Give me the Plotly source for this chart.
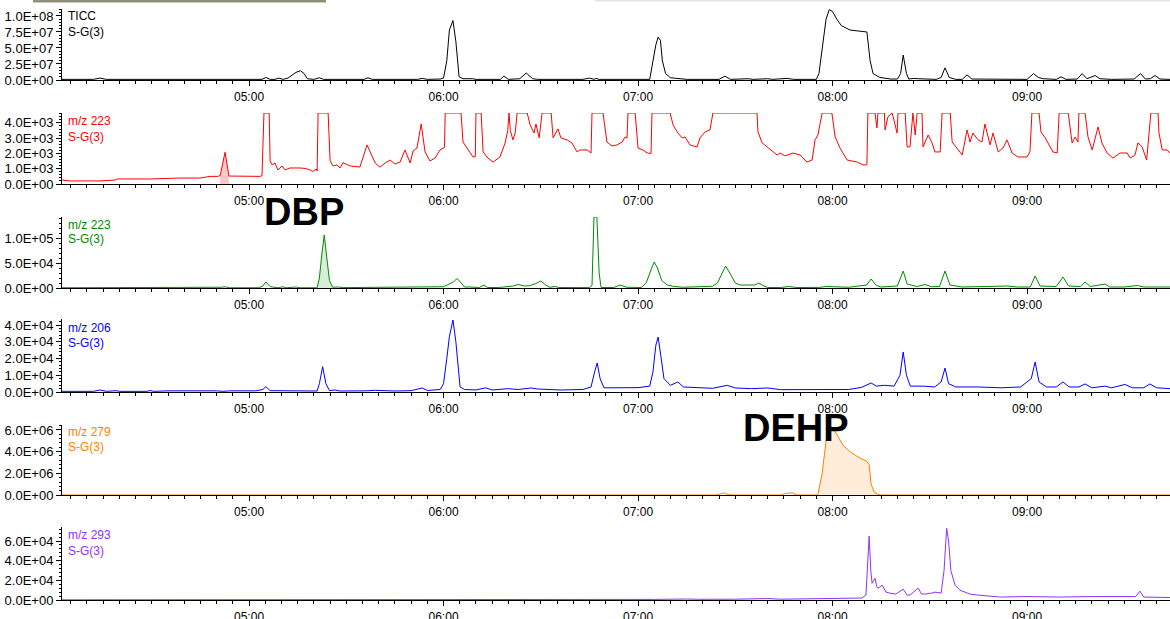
import numpy as np
import pandas as pd
import plotly.graph_objects as go

# ---------------- data (time = minutes after 04:00) ----------------
ticc_t = [2.3, 12.0, 14.0, 16.0, 64.0, 65.2, 66.5, 68.0, 69.2, 70.5, 72.0, 74.5, 75.9, 77.0, 78.0, 80.0,
          81.7, 83.0, 95.5, 96.7, 98.0, 112.0, 113.4, 115.0, 119.0, 120.0, 121.0, 121.8, 122.9, 123.8,
          124.8, 126.0, 129.0, 130.0, 137.5, 138.6, 140.0, 143.5, 145.5, 147.5, 149.0, 163.0, 165.0,
          166.5, 167.0, 168.0, 183.6, 184.6, 185.5, 186.2, 186.9, 187.5, 188.5, 190.0, 193.0, 195.0,
          205.0, 206.8, 208.5, 212.0, 214.0, 215.5, 220.0, 221.5, 224.0, 226.0, 228.0, 235.0, 235.8,
          236.8, 238.0, 239.0, 240.0, 241.3, 242.7, 245.4, 248.5, 250.6, 251.6, 252.5, 254.6, 256.0,
          258.0, 260.0, 261.0, 261.8, 262.8, 263.5, 265.0, 266.5, 272.0, 273.5, 274.7, 276.0, 278.0,
          280.0, 281.5, 283.0, 293.0, 295.0, 300.0, 302.0, 303.5, 305.0, 309.0, 310.5, 312.0, 315.5,
          317.0, 318.5, 321.0, 322.5, 326.0, 333.0, 335.0, 336.5, 338.0, 339.5, 341.0, 344.1]
ticc_v = [1.0e6, 1.0e6, 3.0e6, 1.0e6, 1.0e6, 4.0e6, 1.0e6, 1.0e6, 3.0e6, 1.0e6, 3.0e6, 1.2e7, 1.45e7, 1.0e7,
          2.0e6, 1.0e6, 3.5e6, 1.0e6, 1.0e6, 3.5e6, 1.0e6, 1.0e6, 2.5e6, 1.0e6, 1.5e6, 3.0e6, 3.0e7, 7.8e7,
          9.3e7, 6.0e7, 5.0e6, 2.0e6, 2.0e6, 1.0e6, 1.0e6, 6.0e6, 1.0e6, 2.0e6, 1.1e7, 2.0e6, 1.0e6, 1.0e6,
          3.0e6, 1.0e6, 2.5e6, 1.0e6, 1.0e6, 2.8e7, 5.5e7, 6.7e7, 6.2e7, 3.0e7, 1.0e7, 3.5e6, 1.5e6, 1.0e6,
          1.0e6, 6.0e6, 1.0e6, 1.5e6, 2.0e6, 1.0e6, 2.0e6, 1.0e6, 1.5e6, 2.5e6, 1.0e6, 1.0e6, 1.0e7, 5.0e7,
          9.5e7, 1.1e8, 1.07e8, 9.5e7, 8.5e7, 7.8e7, 7.6e7, 7.5e7, 3.0e7, 1.0e7, 4.0e6, 2.5e6, 1.5e6, 1.5e6,
          1.0e7, 3.9e7, 1.0e7, 1.5e6, 2.5e6, 2.0e6, 1.0e6, 4.0e6, 1.9e7, 4.0e6, 1.0e6, 1.0e6, 8.0e6, 1.5e6,
          1.0e6, 2.0e6, 1.0e6, 1.0e7, 4.0e6, 2.0e6, 1.0e6, 5.0e6, 1.0e6, 1.5e6, 1.0e7, 2.0e6, 7.0e6, 2.0e6,
          1.0e6, 1.5e6, 1.0e7, 1.5e6, 2.0e6, 7.0e6, 1.5e6, 1.0e6]

red_t = [2.3, 4.8, 14.0, 18.7, 19.3, 29.5, 38.7, 44.9, 48.0, 50.4, 51.1, 52.6, 53.8, 55.7, 60.3, 63.4, 64.0,
         64.6, 66.2, 66.5, 67.1, 68.0, 68.9, 70.2, 71.1, 72.6, 75.7, 77.3, 78.8, 79.7, 80.7, 81.0, 81.3,
         84.4, 85.0, 85.9, 87.1, 88.1, 89.0, 91.2, 94.2, 96.4, 98.9, 100.4, 102.0, 103.5, 105.0, 106.6,
         108.1, 109.7, 110.6, 111.8, 113.1, 114.3, 115.8, 117.4, 118.9, 119.8, 120.3, 120.5, 125.4, 126.0,
         127.6, 129.1, 129.8, 130.0, 131.6, 132.2, 133.7, 135.3, 137.4, 139.0, 139.8, 140.2, 140.6, 141.4,
         142.1, 142.7, 145.8, 146.7, 147.9, 148.5, 149.5, 150.4, 153.2, 153.8, 155.3, 156.2, 158.1, 159.6,
         161.2, 162.1, 164.3, 165.2, 165.5, 165.8, 169.2, 170.4, 172.0, 173.5, 175.1, 176.0, 176.6, 176.9,
         179.1, 180.0, 181.5, 182.8, 184.0, 184.3, 189.9, 190.8, 192.3, 193.6, 194.5, 196.0, 198.2, 199.1,
         200.7, 202.2, 203.1, 216.7, 217.0, 218.3, 220.1, 222.9, 223.8, 225.3, 227.8, 230.0, 232.1, 233.7,
         234.6, 235.5, 236.8, 239.8, 240.8, 242.3, 244.5, 247.6, 249.4, 250.6, 250.9, 253.1, 253.7, 254.0,
         256.0, 256.2, 257.1, 258.4, 259.9, 260.2, 262.4, 263.0, 263.9, 264.8, 265.5, 266.1, 267.6, 267.9,
         269.5, 270.7, 271.6, 273.2, 273.8, 276.3, 276.9, 278.4, 280.0, 281.5, 282.4, 283.3, 284.9, 286.1,
         287.0, 288.6, 289.5, 291.1, 292.6, 293.8, 295.4, 297.2, 300.0, 300.9, 301.5, 303.7, 304.3, 305.6,
         307.1, 308.0, 309.3, 309.9, 312.7, 313.9, 314.8, 315.7, 316.0, 317.9, 318.8, 320.1, 321.9, 323.1,
         324.7, 326.5, 328.7, 330.9, 331.8, 333.3, 334.2, 335.5, 336.9, 338.2, 340.4, 340.7, 341.7, 343.2,
         344.1]
red_v = [260, 200, 200, 260, 330, 330, 390, 390, 500, 500, 560, 2080, 520, 520, 520, 500, 550,
         4650, 4650, 1510, 1250, 1380, 920, 1180, 920, 1050, 1050, 1020, 920, 820, 980, 850, 4650,
         4650, 1510, 1180, 1250, 1050, 1400, 1180, 1110, 2560, 1380, 1100, 1380, 1570, 1310, 1440,
         2230, 1380, 2160, 2360, 3930, 2100, 1510, 1700, 2230, 2360, 2400, 4650, 4650, 2750,
         2230, 1770, 1800, 4650, 4650, 2100, 1700, 1440, 1770, 2690, 3500, 4650, 3500, 2890,
         3340, 4650, 4650, 3870, 3340, 3930, 3020, 4650, 4650, 3020, 3610, 3020, 2890, 2690,
         2100, 2230, 2230, 2030, 2030, 4650, 4650, 2750, 2490, 2560, 2750, 3080, 3020, 4650,
         4650, 2360, 2230, 2030, 2000, 4650, 4650, 3870, 3340, 3020, 3080, 2560, 2430, 3020,
         3410, 3540, 4650, 4650, 3410, 2690, 2360, 1900, 2030, 1840, 2030, 1900, 1440, 1570,
         2890, 3210, 4650, 4650, 3080, 2360, 1570, 1440, 1250, 1250, 4650, 4650, 3670, 4650,
         4650, 3540, 4400, 4650, 3340, 4650, 4650, 2430, 2430, 4650, 3210, 4650, 4650, 2430,
         3210, 2690, 2100, 2100, 4650, 4650, 2750, 2360, 1900, 3540, 2750, 3340, 2890, 2750,
         3930, 2560, 3340, 2100, 2360, 2890, 2030, 1770, 1770, 2100, 4650, 4650, 3410, 3020,
         2430, 2100, 2030, 4650, 4650, 2690, 3080, 2750, 4650, 4650, 3080, 2230, 3740, 2690,
         2030, 1700, 2030, 2030, 1700, 1900, 2690, 2430, 1570, 4650, 4650, 3340, 2230, 2230,
         2030]

green_t = [2.3, 50.0, 51.5, 52.6, 54.0, 63.0, 64.3, 65.2, 66.5, 67.5, 69.2, 70.2, 71.5, 74.5, 75.7, 81.0,
           81.7, 82.5, 83.2, 84.0, 84.8, 85.8, 87.5, 89.0, 117.0, 118.0, 119.5, 120.0, 123.0, 124.2, 125.2,
           126.5, 128.0, 131.0, 132.5, 133.5, 137.0, 140.0, 141.5, 143.0, 145.0, 146.5, 148.5, 150.0,
           151.5, 152.8, 154.5, 155.5, 165.0, 165.8, 166.4, 167.3, 168.0, 168.6, 172.5, 174.5, 176.5,
           181.0, 182.5, 184.2, 185.0, 186.0, 187.3, 189.0, 191.0, 194.0, 196.0, 199.0, 203.0, 204.5,
           206.0, 207.0, 208.5, 210.0, 211.5, 216.0, 217.3, 218.5, 220.0, 224.0, 226.5, 229.0, 236.0,
           238.0, 245.0, 250.5, 251.9, 253.5, 255.0, 260.0, 261.8, 263.0, 266.0, 268.5, 270.5, 273.0,
           274.7, 276.2, 280.0, 290.0, 294.0, 297.0, 301.0, 302.5, 304.0, 309.0, 311.1, 312.8, 316.5,
           317.9, 319.5, 324.1, 325.5, 330.0, 334.0, 336.0, 340.0, 344.1]
green_v = [500, 500, 1500, 2500, 500, 500, 4000, 12000, 3000, 1500, 500, 2500, 500, 2000, 500, 500,
           20000, 70000, 106000, 60000, 15000, 1500, 2000, 800, 1000, 1500, 1000, 2500, 12000, 19000, 12000,
           2000, 2000, 1000, 6000, 1000, 1000, 3000, 4000, 7000, 4000, 4500, 9000, 14000,
           6000, 1500, 3000, 1000, 800, 5000, 142000, 142000, 30000, 1000, 1000, 6000, 1500,
           1000, 10000, 40000, 52000, 40000, 15000, 6000, 3000, 1500, 2000, 3000, 3500, 10000,
           30000, 44000, 28000, 10000, 6000, 6000, 10000, 5000, 1000, 1000, 3000, 1000, 1200,
           3000, 1500, 6000, 18000, 5000, 2000, 4000, 34000, 8000, 3000, 7000, 2500, 3000,
           34000, 6000, 2000, 2500, 4000, 2000, 2000, 24000, 4000, 3000, 22000, 4000, 3000,
           12000, 3000, 8000, 2000, 2000, 5000, 2000, 2500, 2000]

blue_t = [2.3, 12.0, 14.0, 16.0, 19.0, 20.0, 28.5, 29.5, 30.5, 35.0, 50.0, 52.0, 54.0, 62.0, 64.3, 65.2,
          66.5, 72.0, 81.0, 81.7, 82.7, 83.7, 84.8, 86.5, 88.0, 96.0, 99.0, 105.0, 110.0, 113.4, 115.0,
          119.0, 120.0, 121.0, 121.8, 122.9, 123.8, 125.1, 126.5, 130.0, 133.0, 135.0, 137.0, 140.0,
          143.0, 147.0, 149.0, 156.0, 163.0, 165.5, 166.6, 167.4, 168.3, 169.5, 172.0, 176.0, 180.0,
          183.6, 184.6, 185.5, 186.2, 187.0, 188.0, 190.0, 192.3, 194.0, 198.0, 203.0, 207.5, 210.0,
          215.0, 220.0, 224.0, 230.0, 236.0, 240.0, 245.0, 249.0, 250.5, 251.9, 253.5, 256.0, 259.0,
          260.8, 261.8, 262.8, 264.0, 268.0, 271.5, 273.5, 274.7, 275.8, 278.0, 285.0, 292.0, 298.0,
          301.3, 302.5, 303.7, 306.0, 309.0, 311.1, 313.0, 316.0, 317.9, 320.0, 324.1, 326.0, 330.2,
          332.5, 336.0, 337.9, 340.0, 344.1]
blue_v = [400, 400, 1200, 400, 800, 400, 400, 900, 400, 700, 700, 400, 700, 700, 1500, 3200,
          800, 600, 600, 5000, 15100, 5000, 800, 1200, 600, 700, 1000, 600, 800, 2400, 900,
          1500, 5000, 20000, 33000, 43000, 30000, 3000, 1500, 1200, 2500, 1200, 1500, 2000,
          1500, 2400, 1800, 1200, 1500, 3000, 12000, 17300, 8000, 2500, 2500, 2400, 2600,
          3500, 12000, 28000, 32800, 22000, 8000, 4000, 6000, 3000, 2600, 2200, 4000, 2400,
          2000, 2400, 1400, 1500, 1500, 1800, 1500, 2800, 4000, 5400, 3500, 4000, 3500,
          10000, 23900, 10000, 3500, 3500, 3000, 6000, 14300, 5000, 3000, 3000, 2500, 3000,
          8000, 17900, 6000, 3000, 3000, 6000, 3000, 3000, 4800, 2500, 3500, 2500, 4500,
          2500, 2500, 4800, 2500, 2000]

orange_t = [2.3, 204.0, 205.5, 206.5, 207.5, 209.0, 224.0, 225.5, 227.5, 229.0, 235.0, 235.5, 236.8, 238.0,
            239.3, 240.2, 241.7, 243.2, 245.4, 247.9, 250.6, 251.3, 251.9, 252.8, 254.0, 255.0, 344.1]
orange_v = [0, 0, 100000, 200000, 50000, 0, 0, 150000, 200000, 0, 0, 100000, 2000000, 5000000,
            6200000, 6100000, 5400000, 4600000, 4000000, 3500000, 3100000, 2800000, 1000000, 300000,
            50000, 0, 0]

purple_t = [2.3, 100.0, 160.0, 175.0, 180.0, 185.0, 195.0, 199.0, 210.0, 220.0, 224.0, 230.0, 240.0, 246.0,
            249.0, 250.3, 250.9, 251.3, 251.8, 252.2, 252.7, 253.1, 253.6, 254.0, 255.3, 256.5, 257.7,
            259.5, 261.8, 263.0, 263.9, 265.5, 266.4, 267.5, 268.5, 270.5, 271.6, 273.5, 274.4, 275.2,
            275.8, 276.5, 276.9, 277.8, 279.3, 282.4, 285.0, 291.7, 300.0, 310.0, 320.0, 330.0, 333.5,
            334.8, 336.0, 344.1]
purple_v = [200, 200, 300, 500, 800, 600, 1000, 700, 800, 1500, 800, 1000, 1200, 1500,
            2000, 5000, 40000, 65000, 30000, 17000, 20000, 22000, 14000, 12000, 15000, 8000, 7000,
            6000, 11000, 5000, 5000, 9000, 12000, 6000, 6000, 7000, 8000, 7000, 30000, 73000,
            60000, 30000, 25000, 15000, 10000, 6000, 5000, 3000, 3500, 3000, 3500, 3000, 3500,
            9000, 3000, 2500]

x_start, x_end = 2.3, 344.1

# panel definitions: label, times, values, colour, y-max, tick values, minor step, fill window
panels = [
    ("TICC", ticc_t, ticc_v, "#000000", 1.109e8, [0, 2.5e7, 5e7, 7.5e7, 1e8], 5e6, None),
    ("m/z 223", red_t, red_v, "#ff0000", 4650, [0, 1e3, 2e3, 3e3, 4e3], 200, (51.0, 54.0)),
    ("m/z 223", green_t, green_v, "#008a00", 142000, [0, 5e4, 1e5], 1e4, (81.0, 85.8)),
    ("m/z 206", blue_t, blue_v, "#0000ff", 43600, [0, 1e4, 2e4, 3e4, 4e4], 2e3, None),
    ("m/z 279", orange_t, orange_v, "#ff8000", 6.46e6, [0, 2e6, 4e6, 6e6], 4e5, (235.0, 255.0)),
    ("m/z 293", purple_t, purple_v, "#9030ff", 74260, [0, 2e4, 4e4, 6e4], 4e3, None),
]
fill_colours = {"#ff0000": "rgba(255,0,0,0.22)", "#008a00": "rgba(0,138,0,0.15)",
                "#ff8000": "rgba(255,128,0,0.15)"}

# layout geometry (pixels of the 1170 x 619 page)
W, H = 1170, 619
panel_px = [(9, 80), (113, 184), (217, 288), (319, 392), (425, 495), (527, 600)]
label_px = [(16, 32), (121, 137), (225, 239), (328, 343), (432, 447), (535, 551)]

BASE = pd.Timestamp("2024-01-01 04:00:00")


def to_time(mins):
    return BASE + pd.to_timedelta(np.asarray(mins, dtype=float), unit="min")


fig = go.Figure()
layout = dict(width=W, height=H, margin=dict(l=0, r=0, t=0, b=0),
              template="none", paper_bgcolor="white", plot_bgcolor="white",
              showlegend=False, font=dict(family="Liberation Sans, Arial", size=12, color="black"))
annotations = []
x_dom = [62 / W, 1.0]
font_xticks = dict(family="Liberation Sans, Arial", size=12, color="black")
font_yticks = dict(family="Liberation Sans, Arial", size=13, color="black")

for i, (lab, t, v, col, ymax, tv, minor, fill) in enumerate(panels):
    n = i + 1
    xa = "x" if n == 1 else f"x{n}"
    ya = "y" if n == 1 else f"y{n}"
    tt = np.asarray(t, dtype=float)
    vv = np.asarray(v, dtype=float)
    if fill is not None:
        m = (tt >= fill[0]) & (tt <= fill[1])
        fig.add_trace(go.Scatter(x=to_time(tt[m]), y=vv[m], mode="lines", line=dict(width=0),
                                 fill="tozeroy", fillcolor=fill_colours[col],
                                 xaxis=xa, yaxis=ya, hoverinfo="skip"))
    fig.add_trace(go.Scatter(x=to_time(tt), y=vv, mode="lines",
                             line=dict(color=col, width=1), xaxis=xa, yaxis=ya))
    top, bot = panel_px[i]
    dom = [1 - bot / H, 1 - top / H]
    layout[f"xaxis{'' if n == 1 else n}"] = dict(
        domain=x_dom, anchor=ya, type="date",
        range=[to_time([x_start])[0], to_time([x_end])[0]],
        tickformat="%H:%M", dtick=3600000, tick0="2024-01-01 05:00:00",
        ticks="outside", ticklen=5, tickcolor="black", tickwidth=1,
        showline=True, linecolor="black", linewidth=1.2,
        showgrid=False, zeroline=False, automargin=False,
        ticklabelstandoff=0, tickfont=font_xticks,
        minor=dict(dtick=300000, tick0="2024-01-01 05:00:00", ticks="outside",
                   ticklen=3, tickcolor="black", showgrid=False),
    )
    layout[f"yaxis{'' if n == 1 else n}"] = dict(
        domain=dom, anchor=xa, range=[0, ymax],
        tickmode="array", tickvals=tv, ticktext=[f"{x:.1E}" for x in tv],
        ticks="outside", ticklen=5, tickcolor="black",
        showline=True, linecolor="black", linewidth=1,
        showgrid=False, zeroline=False, automargin=False, tickfont=font_yticks,
        minor=dict(dtick=minor, tick0=0, ticks="outside", ticklen=2.5,
                   tickcolor="black", showgrid=False),
    )
    line1, line2 = label_px[i]
    for txt, ypx in ((lab, line1), ("S-G(3)", line2)):
        annotations.append(dict(text=txt, xref="paper", yref="paper", x=66 / W, y=1 - ypx / H,
                                xanchor="left", yanchor="middle", showarrow=False,
                                font=dict(family="Liberation Sans, Arial", size=12, color=col)))

# compound labels
for txt, xpx, ypx in (("DBP", 304, 212), ("DEHP", 796, 428)):
    annotations.append(dict(text=f"<b>{txt}</b>", xref="paper", yref="paper", x=xpx / W, y=1 - ypx / H,
                            xanchor="center", yanchor="middle", showarrow=False,
                            font=dict(family="Liberation Sans, Arial", size=38, color="black")))

layout["annotations"] = annotations
layout["shapes"] = [
    dict(type="rect", xref="paper", yref="paper", x0=33 / W, x1=326 / W, y0=1 - 2.5 / H, y1=1,
         fillcolor="#8d917a", line=dict(width=0)),
    dict(type="rect", xref="paper", yref="paper", x0=595 / W, x1=1.0, y0=1 - 1.5 / H, y1=1,
         fillcolor="#e4e4e4", line=dict(width=0)),
]
fig.update_layout(**layout)
fig.write_html("out.html", config={"displayModeBar": False},
               post_script="document.body.style.margin='0px';document.body.style.overflow='hidden';")
